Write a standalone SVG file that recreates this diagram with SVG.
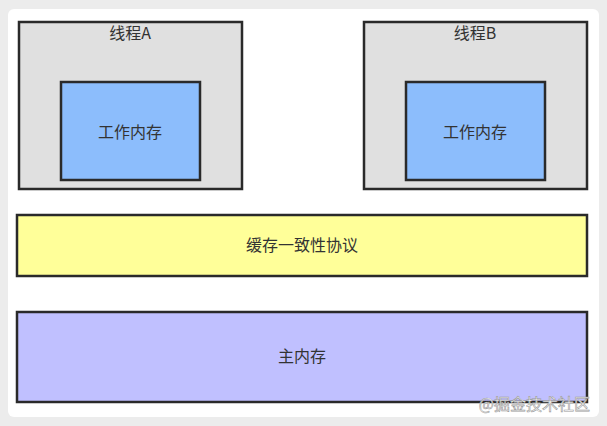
<svg xmlns="http://www.w3.org/2000/svg" width="607" height="426" viewBox="0 0 607 426">
<style>
.b{stroke:#2a2a2a;stroke-width:2.5}
.t{font-family:"Noto Sans CJK SC","Liberation Sans",sans-serif;font-size:16px;fill:#333;text-anchor:middle}
</style>
<rect width="607" height="426" fill="#ececec"/>
<rect x="8" y="9" width="591" height="408" rx="6" fill="#fff"/>
<g id="threadA"><rect class="b" x="19" y="22" width="223" height="167" fill="#e0e0e0"/><text class="t" x="130" y="39">线程A</text></g>
<g id="memA"><rect class="b" x="61" y="82" width="139" height="98" fill="#8cbdfc"/><text class="t" x="130" y="138">工作内存</text></g>
<g id="threadB"><rect class="b" x="364" y="22" width="223" height="167" fill="#e0e0e0"/><text class="t" x="475" y="39">线程B</text></g>
<g id="memB"><rect class="b" x="406" y="82" width="139" height="98" fill="#8cbdfc"/><text class="t" x="475" y="138">工作内存</text></g>
<g id="cache"><rect class="b" x="17" y="215" width="570" height="61" fill="#ffff99"/><text class="t" x="302" y="251">缓存一致性协议</text></g>
<g id="main"><rect class="b" x="17" y="312" width="570" height="90" fill="#c0c0ff"/><text class="t" x="302" y="362">主内存</text></g>
<g id="connectors"/>
<text x="590" y="410" font-family="Noto Sans CJK SC,sans-serif" font-size="16" fill="#fff" stroke="#999" stroke-width="0.6" text-anchor="end">@掘金技术社区</text>
</svg>
